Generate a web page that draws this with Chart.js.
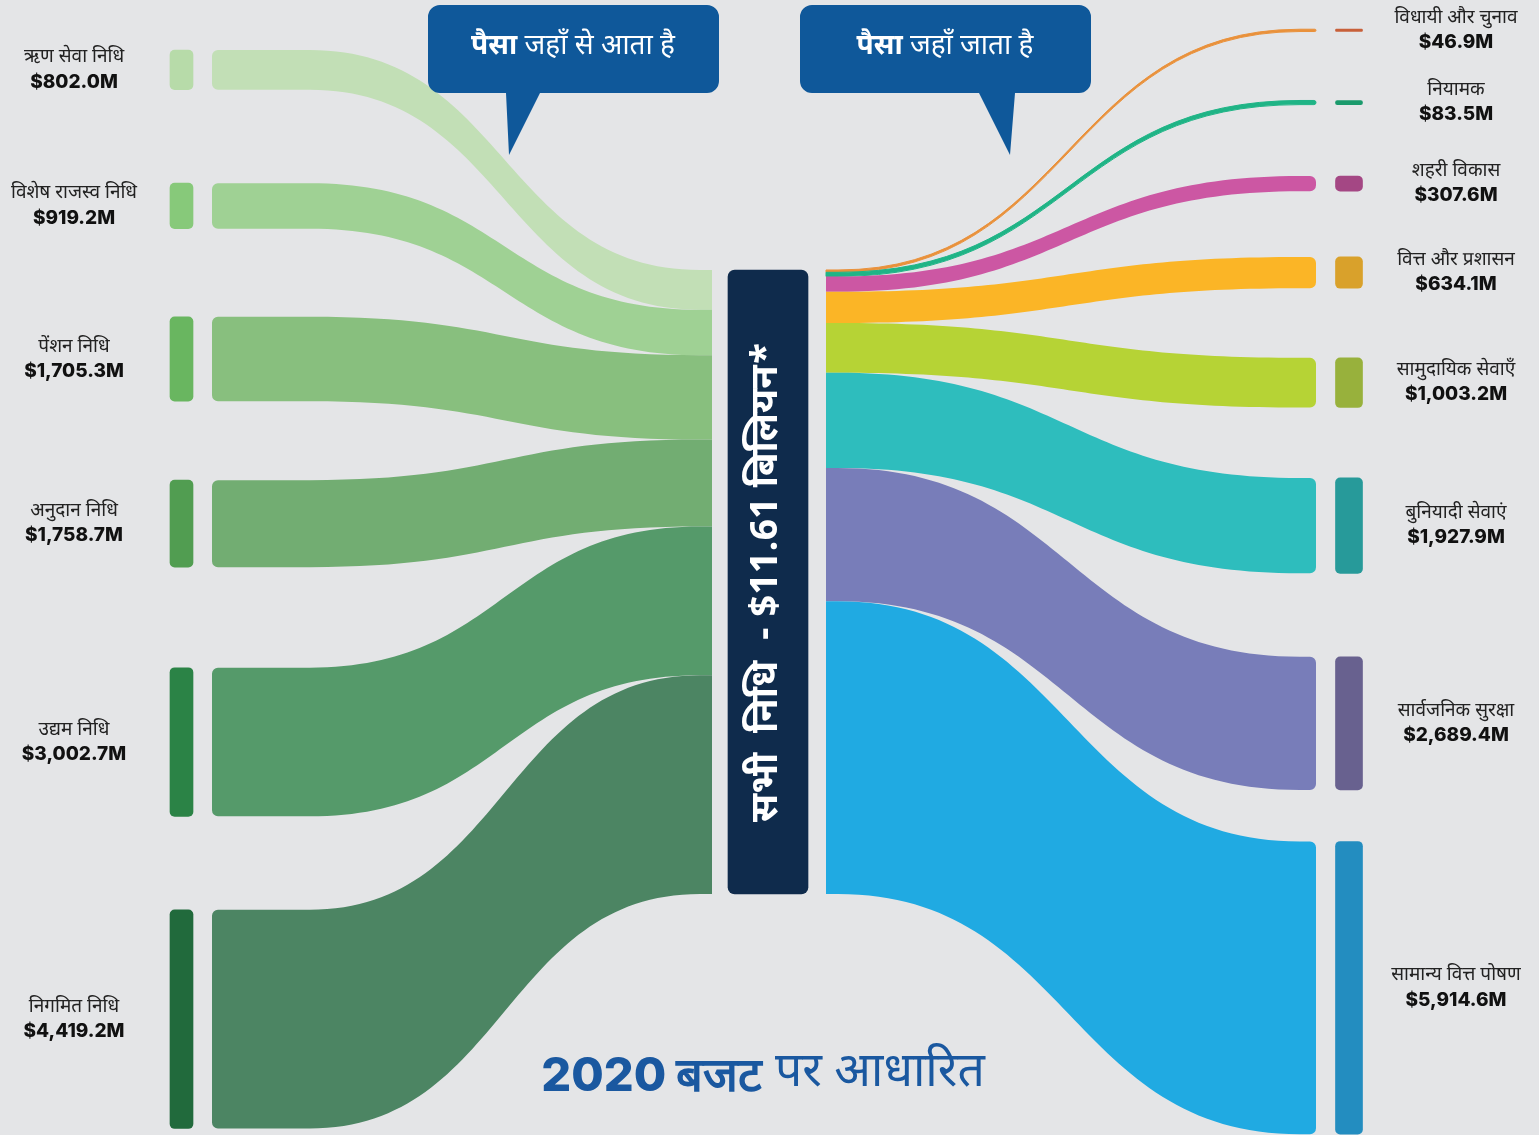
<!DOCTYPE html>
<html lang="hi">
<head>
<meta charset="utf-8">
<title>2020 बजट पर आधारित</title>
<script src="https://cdn.jsdelivr.net/npm/chart.js@4.4.1/dist/chart.umd.min.js"></script>
<style>
  html, body { margin: 0; padding: 0; background: #e4e5e7; }
  #wrap { width: 1539px; height: 1135px; position: relative; }
</style>
</head>
<body>
<div id="wrap"><canvas id="chart"></canvas></div>
<script>
// where the money comes from (left)
const sourceNames = ['ऋण सेवा निधि', 'विशेष राजस्व निधि', 'पेंशन निधि', 'अनुदान निधि', 'उद्यम निधि', 'निगमित निधि'];
const sourceValues = [802.0, 919.2, 1705.3, 1758.7, 3002.7, 4419.2];

// where the money goes (right)
const useNames = ['विधायी और चुनाव', 'नियामक', 'शहरी विकास', 'वित्त और प्रशासन', 'सामुदायिक सेवाएँ', 'बुनियादी सेवाएं', 'सार्वजनिक सुरक्षा', 'सामान्य वित्त पोषण'];
const useValues = [46.9, 83.5, 307.6, 634.1, 1003.2, 1927.9, 2689.4, 5914.6];

const centerLabel = 'सभी  निधि  - $11.61 बिलियन*';
const leftTitle = ['पैसा', ' जहाँ से आता है'];
const rightTitle = ['पैसा', ' जहाँ जाता है'];
const footer = ['2020 बजट', ' पर आधारित'];

// colours
const sourceBandColors = ['#c2dfb6', '#9fd194', '#88bf7e', '#72ad72', '#559a6a', '#4c8563'];
const sourceNodeColors = ['#b7dba9', '#87c97a', '#69b660', '#519d51', '#2b8346', '#216a3c'];
const useBandColors = ['#e9913b', '#1fb486', '#cc57a3', '#fbb526', '#b6d335', '#2ebdbd', '#787db9', '#20aae2'];
const useNodeColors = ['#c8603a', '#1a9a6c', '#a44784', '#d9a12b', '#98b13c', '#279a9a', '#68618f', '#238dc0'];
const centerColor = '#0f2b4c';
const calloutColor = '#0f589a';

// layout: y axis is in $ millions, x axis is page-like units
const Y_MAX = 22930;
const sourceTop = [1010, 3700, 6400, 9700, 13490, 18380];
const useTop = [590, 2030, 3555, 5190, 7230, 9655, 13270, 17000];
const centerTop = 5454;
const X = {
  srcLabel: 74, srcNode: 181.5, srcBand: 212, lA: 310, lB: 700, centerIn: 712,
  center: 768, centerOut: 826, rA: 838, rB: 1300, useBand: 1316, useNode: 1349, useLabel: 1456
};

const DEVA = '"Noto Sans Devanagari", "Lohit Devanagari", "Noto Sans", "DejaVu Sans", sans-serif';
const NUM = 'Inter, "Open Sans", "Liberation Sans", sans-serif';
const total = sourceValues.reduce((a, b) => a + b, 0);
const money = v => '$' + v.toLocaleString('en-US', { minimumFractionDigits: 1, maximumFractionDigits: 1 }) + 'M';

function band(ctx, x0, t0, b0, x1, t1, b1, xa, xb, r, round) {
  const xm = (xa + xb) / 2;
  const r0 = Math.min(r, (b0 - t0) / 2), r1 = Math.min(r, (b1 - t1) / 2);
  ctx.beginPath();
  if (round === 'start') { ctx.moveTo(x0, t0 + r0); ctx.arcTo(x0, t0, x0 + r0, t0, r0); } else ctx.moveTo(x0, t0);
  ctx.lineTo(xa, t0);
  ctx.bezierCurveTo(xm, t0, xm, t1, xb, t1);
  if (round === 'end') {
    ctx.lineTo(x1 - r1, t1); ctx.arcTo(x1, t1, x1, t1 + r1, r1);
    ctx.lineTo(x1, b1 - r1); ctx.arcTo(x1, b1, x1 - r1, b1, r1);
  } else { ctx.lineTo(x1, t1); ctx.lineTo(x1, b1); }
  ctx.lineTo(xb, b1);
  ctx.bezierCurveTo(xm, b1, xm, b0, xa, b0);
  if (round === 'start') { ctx.lineTo(x0 + r0, b0); ctx.arcTo(x0, b0, x0, b0 - r0, r0); } else ctx.lineTo(x0, b0);
  ctx.closePath();
  ctx.fill();
  if (b0 - t0 < 5) { ctx.lineWidth = 1; ctx.stroke(); }
}

const flowPlugin = {
  id: 'flows',
  beforeDatasetsDraw(chart) {
    const { ctx, scales: { x, y } } = chart;
    ctx.save();
    let acc = centerTop;
    sourceValues.forEach((v, i) => {
      ctx.fillStyle = ctx.strokeStyle = sourceBandColors[i];
      band(ctx, x.getPixelForValue(X.srcBand), y.getPixelForValue(sourceTop[i]), y.getPixelForValue(sourceTop[i] + v),
        x.getPixelForValue(X.centerIn), y.getPixelForValue(acc), y.getPixelForValue(acc + v),
        x.getPixelForValue(X.lA), x.getPixelForValue(X.lB), 6, 'start');
      acc += v;
    });
    acc = centerTop;
    useValues.forEach((v, i) => {
      ctx.fillStyle = ctx.strokeStyle = useBandColors[i];
      band(ctx, x.getPixelForValue(X.centerOut), y.getPixelForValue(acc), y.getPixelForValue(acc + v),
        x.getPixelForValue(X.useBand), y.getPixelForValue(useTop[i]), y.getPixelForValue(useTop[i] + v),
        x.getPixelForValue(X.rA), x.getPixelForValue(X.rB), 6, 'end');
      acc += v;
    });
    ctx.restore();
  }
};

function mixed(ctx, parts, fonts, cx, cy) {
  const widths = parts.map((p, i) => { ctx.font = fonts[i]; return ctx.measureText(p).width; });
  let xx = cx - widths.reduce((a, b) => a + b, 0) / 2;
  ctx.textAlign = 'left';
  ctx.textBaseline = 'middle';
  parts.forEach((p, i) => { ctx.font = fonts[i]; ctx.fillText(p, xx, cy); xx += widths[i]; });
}

function callout(ctx, l, t, r, b, rad, p1, tip, p2) {
  ctx.beginPath();
  ctx.moveTo(l + rad, t);
  ctx.arcTo(r, t, r, b, rad);
  ctx.arcTo(r, b, l, b, rad);
  ctx.lineTo(p2, b);
  ctx.lineTo(tip[0], tip[1]);
  ctx.lineTo(p1, b);
  ctx.arcTo(l, b, l, t, rad);
  ctx.arcTo(l, t, r, t, rad);
  ctx.closePath();
  ctx.fill();
}

const textPlugin = {
  id: 'texts',
  afterDatasetsDraw(chart) {
    const { ctx, scales: { x, y } } = chart;
    ctx.save();
    ctx.textAlign = 'center';
    ctx.textBaseline = 'middle';
    const label = (name, v, cx, cy) => {
      ctx.fillStyle = '#222222';
      ctx.font = '19px ' + DEVA;
      ctx.fillText(name, cx, cy - 11);
      ctx.fillStyle = '#111111';
      ctx.font = '800 19px ' + NUM;
      ctx.fillText(money(v), cx, cy + 12);
    };
    sourceValues.forEach((v, i) => {
      label(sourceNames[i], v, x.getPixelForValue(X.srcLabel), y.getPixelForValue(sourceTop[i] + v / 2));
    });
    useValues.forEach((v, i) => {
      label(useNames[i], v, x.getPixelForValue(X.useLabel), y.getPixelForValue(useTop[i] + v / 2));
    });

    // centre node text, reading bottom to top
    const cx = x.getPixelForValue(X.center);
    const cy = y.getPixelForValue(centerTop + total / 2);
    ctx.save();
    ctx.translate(cx, cy);
    ctx.rotate(-Math.PI / 2);
    ctx.fillStyle = '#ffffff';
    let size = 40;
    ctx.font = 'bold ' + size + 'px ' + DEVA;
    size = size * 480 / ctx.measureText(centerLabel).width;
    ctx.font = 'bold ' + size.toFixed(1) + 'px ' + DEVA;
    ctx.fillText(centerLabel, 0, 2);
    ctx.restore();

    // callouts
    ctx.fillStyle = calloutColor;
    callout(ctx, 428, 5, 719, 93, 12, 506, [509, 155], 540);
    callout(ctx, 800, 5, 1091, 93, 12, 979, [1010, 155], 1015);
    ctx.fillStyle = '#ffffff';
    mixed(ctx, leftTitle, ['bold 28px ' + DEVA, '28px ' + DEVA], 573, 49);
    mixed(ctx, rightTitle, ['bold 28px ' + DEVA, '28px ' + DEVA], 945, 49);

    // footer
    ctx.fillStyle = '#1a58a0';
    mixed(ctx, footer, ['800 47px ' + NUM, '48px ' + DEVA], 763, 1077);
    ctx.restore();
  }
};

new Chart(document.getElementById('chart'), {
  type: 'bar',
  data: {
    datasets: [
      {
        label: 'स्रोत',
        data: sourceValues.map((v, i) => ({ x: X.srcNode, y: [sourceTop[i], sourceTop[i] + v] })),
        backgroundColor: sourceNodeColors,
        barThickness: 23, borderRadius: 5, borderSkipped: false, grouped: false
      },
      {
        label: 'सभी निधि',
        data: [{ x: X.center, y: [centerTop, centerTop + total] }],
        backgroundColor: centerColor,
        barThickness: 80, borderRadius: 7, borderSkipped: false, grouped: false
      },
      {
        label: 'उपयोग',
        data: useValues.map((v, i) => ({ x: X.useNode, y: [useTop[i], useTop[i] + v] })),
        backgroundColor: useNodeColors,
        barThickness: 27, borderRadius: 5, borderSkipped: false, grouped: false
      }
    ]
  },
  options: {
    responsive: true,
    maintainAspectRatio: false,
    animation: false,
    layout: { padding: 0 },
    plugins: { legend: { display: false }, tooltip: { enabled: false } },
    scales: {
      x: { type: 'linear', min: 0, max: 1539, offset: false, display: false },
      y: { type: 'linear', min: 0, max: Y_MAX, reverse: true, display: false }
    }
  },
  plugins: [flowPlugin, textPlugin]
});
</script>
</body>
</html>
